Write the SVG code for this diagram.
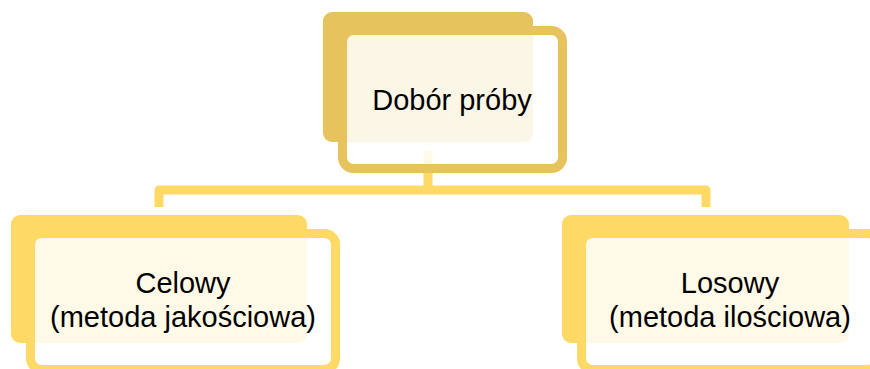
<svg xmlns="http://www.w3.org/2000/svg" width="870" height="369" viewBox="0 0 870 369">
<style>
.bk1{fill:#E6C35C}
.bk2{fill:#FFD966}
.fr1{fill:#FFFFFF;fill-opacity:0.85;stroke:#E6C35C;stroke-width:9}
.fr2{fill:#FFFFFF;fill-opacity:0.85;stroke:#FFD966;stroke-width:9}
.conn{fill:none;stroke:#FFD966;stroke-width:9;stroke-linejoin:round}
.t{font-family:"Liberation Sans",Arial,sans-serif;font-size:29px;fill:#000;text-anchor:middle}
</style>
<rect width="870" height="369" fill="#FFFFFF"/>
<g id="back-shapes">
<rect class="bk1" x="323" y="12" width="210" height="130" rx="9"/>
<rect class="bk2" x="11" y="215" width="296" height="128" rx="9"/>
<rect class="bk2" x="562" y="215" width="287" height="128" rx="9"/>
</g>
<g id="connectors">
<path class="conn" d="M428 151 V190"/>
<path class="conn" d="M159 207 V190 H706 V207"/>
</g>
<g id="node-root">
<rect class="fr1" x="342.5" y="30.5" width="220" height="138" rx="11"/>
<text class="t" x="452" y="110">Dobór próby</text>
</g>
<g id="node-celowy">
<rect class="fr2" x="30.5" y="233.5" width="305" height="136" rx="11"/>
<text class="t" x="183" y="293">Celowy</text>
<text class="t" x="183" y="327">(metoda jakościowa)</text>
</g>
<g id="node-losowy">
<rect class="fr2" x="581.5" y="233.5" width="297" height="136" rx="11"/>
<text class="t" x="730" y="293">Losowy</text>
<text class="t" x="730" y="327">(metoda ilościowa)</text>
</g>
</svg>
